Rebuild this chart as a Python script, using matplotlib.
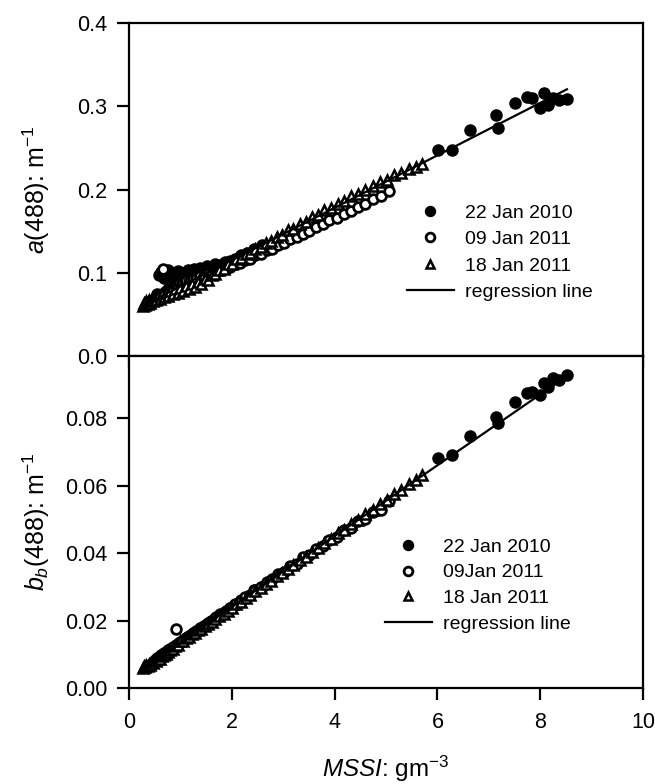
import matplotlib
matplotlib.use("Agg")
import matplotlib.pyplot as plt
import numpy as np

plt.rcParams['font.family'] = ['Liberation Sans', 'DejaVu Sans']
plt.rcParams['mathtext.fontset'] = 'custom'
plt.rcParams['mathtext.rm'] = 'Liberation Sans'
plt.rcParams['mathtext.it'] = 'Liberation Sans:italic'

# ---------------- data ----------------
labels_top = ['22 Jan 2010', '09 Jan 2011', '18 Jan 2011', 'regression line']
labels_bot = ['22 Jan 2010', '09Jan 2011', '18 Jan 2011', 'regression line']

# 22 Jan 2010 (filled circles)
x_2010 = [0.58, 0.63, 0.68, 0.72, 0.76, 0.80, 0.84, 0.88, 0.92, 0.96, 1.00, 1.05, 1.10,
          1.15, 1.20, 1.26, 1.32, 1.38, 1.45, 1.52, 1.60, 1.68, 1.77, 1.86, 1.96, 2.06,
          2.18, 2.30, 2.44, 2.58,
          6.01, 6.28, 6.63, 7.14, 7.18, 7.51, 7.74, 7.84, 8.00, 8.08, 8.15, 8.25, 8.37, 8.52]
a_2010 = [0.097, 0.101, 0.094, 0.099, 0.103, 0.096, 0.100, 0.093, 0.098, 0.102, 0.095,
          0.100, 0.097, 0.103, 0.099, 0.104, 0.101, 0.106, 0.103, 0.108, 0.106, 0.110,
          0.109, 0.113, 0.114, 0.117, 0.121, 0.124, 0.129, 0.133,
          0.248, 0.247, 0.271, 0.289, 0.274, 0.304, 0.311, 0.310, 0.298, 0.316, 0.301,
          0.310, 0.307, 0.309]
bb_2010 = [0.0093, 0.0097, 0.0104, 0.0107, 0.0112, 0.0115, 0.0120, 0.0123, 0.0128, 0.0131,
           0.0136, 0.0140, 0.0147, 0.0151, 0.0157, 0.0162, 0.0170, 0.0174, 0.0184, 0.0189,
           0.0200, 0.0206, 0.0218, 0.0225, 0.0238, 0.0246, 0.0261, 0.0271, 0.0289, 0.0300,
           0.0681, 0.0690, 0.0747, 0.0803, 0.0785, 0.0847, 0.0874, 0.0877, 0.0868, 0.0904,
           0.0892, 0.0919, 0.0913, 0.0927]

# 09 Jan 2011 (open circles)
x_0901 = [0.50, 0.55, 0.60, 0.66, 0.70, 0.75, 0.80, 0.86, 0.92, 0.98, 1.04, 1.10, 1.17,
          1.24, 1.31, 1.38, 1.46, 1.54, 1.62, 1.70, 1.79, 1.88, 1.97, 2.06, 2.16, 2.26,
          2.36, 2.46, 2.57, 2.68, 2.79, 2.90, 3.02, 3.14, 3.26, 3.38, 3.51, 3.64, 3.77,
          3.90, 4.04, 4.18, 4.32, 4.46, 4.60, 4.75, 4.90, 5.05]
a_0901 = [0.070, 0.074, 0.073, 0.105, 0.077, 0.080, 0.079, 0.083, 0.083, 0.087, 0.086,
          0.090, 0.089, 0.093, 0.092, 0.096, 0.096, 0.099, 0.099, 0.102, 0.103, 0.106,
          0.107, 0.110, 0.112, 0.115, 0.117, 0.121, 0.123, 0.127, 0.129, 0.133, 0.136,
          0.140, 0.143, 0.147, 0.150, 0.155, 0.158, 0.163, 0.166, 0.171, 0.174, 0.179,
          0.183, 0.188, 0.192, 0.198]
bb_0901 = [0.0083, 0.0089, 0.0092, 0.0100, 0.0103, 0.0110, 0.0113, 0.0122, 0.0176, 0.0134,
           0.0140, 0.0148, 0.0153, 0.0162, 0.0168, 0.0177, 0.0183, 0.0193, 0.0200, 0.0210,
           0.0217, 0.0229, 0.0236, 0.0248, 0.0256, 0.0270, 0.0277, 0.0291, 0.0299, 0.0315,
           0.0322, 0.0338, 0.0345, 0.0362, 0.0369, 0.0387, 0.0394, 0.0413, 0.0420, 0.0439,
           0.0447, 0.0467, 0.0474, 0.0494, 0.0501, 0.0522, 0.0529, 0.0553]

# 18 Jan 2011 (open triangles)
x_1801 = [0.28, 0.30, 0.32, 0.34, 0.36, 0.38, 0.41, 0.44, 0.47, 0.50, 0.53, 0.56, 0.60,
          0.64, 0.68, 0.72, 0.76, 0.80, 0.85, 0.90, 0.95, 1.00, 1.05, 1.10, 1.16, 1.22,
          1.28, 1.34, 1.40, 1.47, 1.54, 1.61, 1.68, 1.76, 1.84, 1.92, 2.00, 2.09, 2.18,
          2.27, 2.36, 2.46, 2.56, 2.66, 2.76, 2.87, 2.98, 3.09, 3.20, 3.32, 3.44, 3.56,
          3.68, 3.80, 3.93, 4.06, 4.19, 4.32, 4.46, 4.60, 4.74, 4.88, 5.02, 5.16, 5.30,
          5.44, 5.58, 5.70]
a_1801 = [0.060, 0.064, 0.061, 0.066, 0.063, 0.067, 0.064, 0.069, 0.066, 0.071, 0.067,
          0.072, 0.069, 0.074, 0.071, 0.076, 0.072, 0.078, 0.074, 0.080, 0.076, 0.082,
          0.078, 0.084, 0.080, 0.086, 0.083, 0.089, 0.086, 0.092, 0.091, 0.097, 0.098,
          0.103, 0.105, 0.110, 0.111, 0.116, 0.118, 0.122, 0.124, 0.129, 0.131, 0.136,
          0.138, 0.143, 0.145, 0.151, 0.153, 0.158, 0.161, 0.167, 0.169, 0.175, 0.178,
          0.183, 0.186, 0.192, 0.195, 0.200, 0.204, 0.209, 0.212, 0.217, 0.220, 0.225,
          0.227, 0.231]
bb_1801 = [0.0058, 0.0064, 0.0062, 0.0068, 0.0065, 0.0071, 0.0069, 0.0077, 0.0074, 0.0082,
           0.0079, 0.0087, 0.0085, 0.0094, 0.0098, 0.0102, 0.0106, 0.0114, 0.0116, 0.0124,
           0.0126, 0.0138, 0.0140, 0.0149, 0.0152, 0.0161, 0.0163, 0.0172, 0.0175, 0.0184,
           0.0189, 0.0197, 0.0204, 0.0212, 0.0220, 0.0229, 0.0237, 0.0248, 0.0256, 0.0267,
           0.0275, 0.0287, 0.0296, 0.0308, 0.0317, 0.0331, 0.0341, 0.0354, 0.0364, 0.0379,
           0.0389, 0.0404, 0.0414, 0.0430, 0.0441, 0.0458, 0.0469, 0.0486, 0.0497, 0.0515,
           0.0527, 0.0545, 0.0556, 0.0575, 0.0586, 0.0604, 0.0616, 0.0630]

# regression lines (slope, intercept) and x range
fit_a = (0.0315, 0.052)
fit_bb = (0.0105, 0.0030)
fit_x = [0.30, 8.52]

xticks = [0, 2, 4, 6, 8, 10]
yticks_top = [0.0, 0.1, 0.2, 0.3, 0.4]
yticks_bot = [0.00, 0.02, 0.04, 0.06, 0.08]

# ---------------- figure ----------------
W, H = 655, 784
fig = plt.figure(figsize=(W / 100, H / 100), dpi=100)
left, right = 129 / W, 643 / W
ax1 = fig.add_axes([left, 1 - 356 / H, right - left, (356 - 23) / H])
ax2 = fig.add_axes([left, 1 - 688 / H, right - left, (688 - 356) / H])

fs_tick = 15.5
fs_label = 18
fs_leg = 14

def draw(ax, ya, yb, yc, fit):
    ax.plot(x_2010, ya, linestyle='none', marker='o', ms=8, mfc='black', mec='black',
            label='s1')
    ax.plot(x_0901, yb, linestyle='none', marker='o', ms=7, mfc='white', mec='black',
            mew=2.0, label='s2')
    ax.plot(x_1801, yc, linestyle='none', marker='^', ms=7, mfc='white', mec='black',
            mew=1.8, label='s3')
    xf = np.array(fit_x)
    ax.plot(xf, fit[0] * xf + fit[1], color='black', lw=1.6, label='reg')
    ax.set_xlim(0, 10)
    ax.set_xticks(xticks)
    for s in ax.spines.values():
        s.set_linewidth(1.6)
    ax.tick_params(direction='out', length=8.5, width=1.6, labelsize=fs_tick)
    ax.tick_params(axis='y', pad=7)
    ax.tick_params(axis='x', pad=9)

draw(ax1, a_2010, a_0901, a_1801, fit_a)
draw(ax2, bb_2010, bb_0901, bb_1801, fit_bb)

ax1.set_ylim(0, 0.4)
ax1.set_yticks(yticks_top)
ax1.set_yticklabels(['%.1f' % v for v in yticks_top])
ax1.tick_params(axis='x', labelbottom=False)

ax2.set_ylim(0, 0.0984)
ax2.set_yticks(yticks_bot)
ax2.set_yticklabels(['%.2f' % v for v in yticks_bot])
ax2.set_xticklabels([str(v) for v in xticks])

ax1.set_ylabel(r'$a$(488): m$^{-1}$', fontsize=fs_label)
ax2.set_ylabel(r'$b_b$(488): m$^{-1}$', fontsize=fs_label)
ax1.yaxis.set_label_coords(-0.15, 0.5)
ax2.yaxis.set_label_coords(-0.15, 0.5)
ax2.set_xlabel(r'$MSSI$: gm$^{-3}$', fontsize=17.5, labelpad=15)

h1, _ = ax1.get_legend_handles_labels()
ax1.legend(h1, labels_top, loc='upper left', bbox_to_anchor=(407 / W, 1 - 204 / H),
           bbox_transform=fig.transFigure, frameon=False, fontsize=fs_leg,
           borderpad=0, borderaxespad=0, handlelength=2.4, handletextpad=0.6,
           labelspacing=0.46, markerscale=0.9)
h2, _ = ax2.get_legend_handles_labels()
ax2.legend(h2, labels_bot, loc='upper left', bbox_to_anchor=(385 / W, 1 - 538 / H),
           bbox_transform=fig.transFigure, frameon=False, fontsize=fs_leg,
           borderpad=0, borderaxespad=0, handlelength=2.4, handletextpad=0.6,
           labelspacing=0.42, markerscale=0.9)

fig.savefig('out.png', dpi=100)
